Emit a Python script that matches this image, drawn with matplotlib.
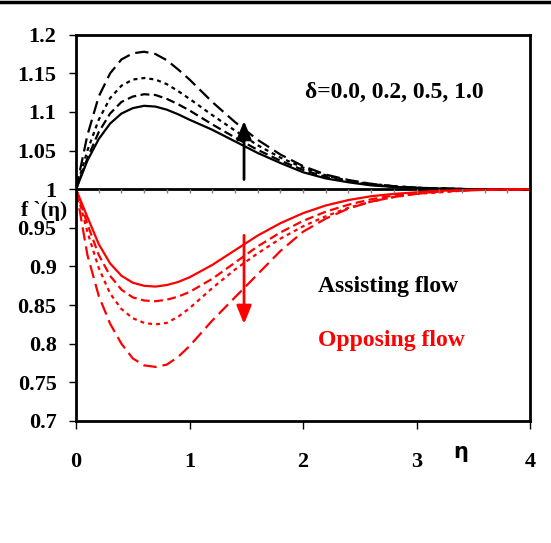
import numpy as np
import matplotlib
matplotlib.use('Agg')
import matplotlib.pyplot as plt
from matplotlib.lines import Line2D

# eta grid shared by all curves
eta = [0, 0.1, 0.2, 0.3, 0.4, 0.5, 0.6, 0.7, 0.8, 0.9, 1.0, 1.2, 1.4, 1.6,
       1.8, 2.0, 2.2, 2.4, 2.6, 2.8, 3.0, 3.2, 3.5, 4.0]

# assisting flow (black), delta = 0.0, 0.2, 0.5, 1.0
assist_d00 = [1.0, 1.037, 1.065, 1.085, 1.098, 1.105, 1.108, 1.107, 1.103, 1.097, 1.090, 1.077,
              1.062, 1.047, 1.034, 1.022, 1.014, 1.009, 1.005, 1.003, 1.0015, 1.001, 1.0, 1.0]
assist_d02 = [1.0, 1.040, 1.074, 1.098, 1.113, 1.120, 1.123, 1.122, 1.117, 1.110, 1.102, 1.084,
              1.067, 1.051, 1.037, 1.025, 1.016, 1.010, 1.006, 1.003, 1.002, 1.001, 1.0, 1.0]
assist_d05 = [1.0, 1.050, 1.090, 1.118, 1.134, 1.142, 1.144, 1.142, 1.136, 1.127, 1.117, 1.096,
              1.076, 1.057, 1.041, 1.028, 1.018, 1.011, 1.007, 1.004, 1.002, 1.001, 1.0, 1.0]
assist_d10 = [1.0, 1.070, 1.120, 1.150, 1.168, 1.176, 1.178, 1.175, 1.167, 1.155, 1.142, 1.113,
              1.087, 1.064, 1.045, 1.030, 1.019, 1.012, 1.007, 1.004, 1.002, 1.001, 1.0, 1.0]

# opposing flow (red)
oppose_d00 = [1.0, 0.964, 0.929, 0.904, 0.888, 0.879, 0.875, 0.874, 0.876, 0.880, 0.886, 0.902,
              0.921, 0.940, 0.956, 0.969, 0.979, 0.986, 0.991, 0.994, 0.996, 0.998, 0.999, 1.0]
oppose_d02 = [1.0, 0.955, 0.915, 0.888, 0.870, 0.860, 0.856, 0.855, 0.857, 0.861, 0.867, 0.884,
              0.905, 0.926, 0.944, 0.959, 0.971, 0.980, 0.987, 0.992, 0.995, 0.997, 0.999, 1.0]
oppose_d05 = [1.0, 0.945, 0.898, 0.865, 0.845, 0.833, 0.827, 0.825, 0.827, 0.835, 0.846, 0.872,
              0.896, 0.917, 0.936, 0.952, 0.965, 0.976, 0.984, 0.990, 0.994, 0.996, 0.999, 1.0]
oppose_d10 = [1.0, 0.915, 0.862, 0.826, 0.800, 0.781, 0.772, 0.770, 0.773, 0.783, 0.797, 0.830,
              0.860, 0.890, 0.920, 0.945, 0.962, 0.975, 0.984, 0.990, 0.994, 0.997, 0.999, 1.0]

yticks = [0.7, 0.75, 0.8, 0.85, 0.9, 0.95, 1, 1.05, 1.1, 1.15, 1.2]
xticks = [0, 1, 2, 3, 4]

serif = 'Liberation Serif'
styles = ['-', (0, (4, 2)), (0, (1.8, 1.8)), (0, (6, 2.7))]

fig = plt.figure(figsize=(5.51, 5.43), dpi=100)
ax = fig.add_axes([0.138, 0.2247, 0.824, 0.7113])

for ys, ls in zip([assist_d00, assist_d02, assist_d05, assist_d10], styles):
    ax.plot(eta, ys, color='black', lw=1.6, ls=ls)
for ys, ls in zip([oppose_d00, oppose_d02, oppose_d05, oppose_d10], styles):
    ax.plot(eta, ys, color='red', lw=1.6, ls=ls)

# axis line crossing at f'=1 with small ticks
ax.axhline(1, color='black', lw=2, zorder=1)
ax.plot(np.arange(0.2, 4.0, 0.2), np.ones(19), ls='none', marker=3, ms=3,
        color='gray', mew=1)

ax.set_xlim(0, 4)
ax.set_ylim(0.7, 1.2)
ax.set_yticks(yticks)
ax.set_yticklabels(['%g' % v for v in yticks])
ax.set_xticks(xticks)
ax.tick_params(axis='y', direction='out', length=5, width=1, pad=9, labelsize=16)
ax.tick_params(axis='x', direction='out', length=6, width=1, pad=16, labelsize=16)
for lab in ax.get_xticklabels() + ax.get_yticklabels():
    lab.set_fontfamily(serif)
    lab.set_fontweight('bold')
for sp in ax.spines.values():
    sp.set_linewidth(2)

# arrows
ax.annotate('', xy=(1.48, 1.092), xytext=(1.48, 1.009),
            arrowprops=dict(arrowstyle='-|>,head_length=1.1,head_width=0.45',
                            color='black', lw=2))
ax.annotate('', xy=(1.48, 0.822), xytext=(1.48, 0.944),
            arrowprops=dict(arrowstyle='-|>,head_length=1.1,head_width=0.45',
                            color='red', lw=2))

ax.text(2.02, 1.125, 'δ=0.0, 0.2, 0.5, 1.0', fontsize=17, fontweight='bold',
        family=serif, va='center', ha='left')
ax.text(2.13, 0.874, 'Assisting flow', fontsize=17, fontweight='bold',
        family=serif, va='center', ha='left', color='black')
ax.text(2.13, 0.804, 'Opposing flow', fontsize=17, fontweight='bold',
        family=serif, va='center', ha='left', color='red')

fig.text(44 / 551, 1 - 211 / 543, 'f `(η)', fontsize=15.5, fontweight='bold',
         family=serif, ha='center', va='center')
fig.text(461 / 551, 1 - 452 / 543, 'η', fontsize=15, fontweight='bold',
         family='DejaVu Sans', ha='center', va='center')

fig.add_artist(Line2D([0, 1], [1 - 2 / 543, 1 - 2 / 543], color='black', lw=2.5,
                      transform=fig.transFigure))

fig.savefig('out.png', dpi=100)
